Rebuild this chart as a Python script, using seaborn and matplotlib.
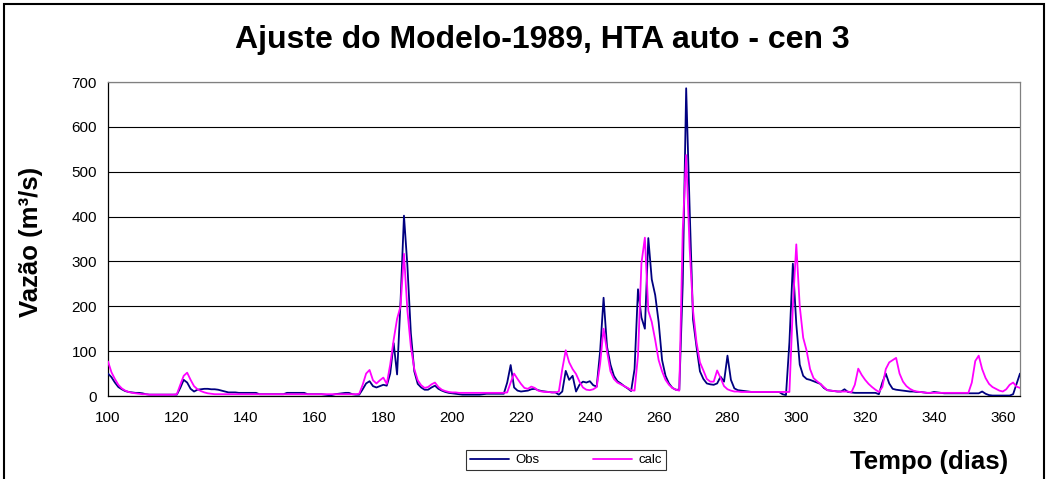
import numpy as np
import pandas as pd
import matplotlib
matplotlib.use("Agg")
import matplotlib.pyplot as plt
from matplotlib.patches import Rectangle
import seaborn as sns

# Daily flows (m3/s), days 100..365
dias = list(range(100, 366))

obs = [
    50, 42, 30, 20, 15, 11, 9, 8, 7, 7,
    6, 4, 3, 3, 3, 3, 3, 3, 3, 3,
    3, 18, 36, 30, 16, 10, 14, 15, 16, 16,
    15, 15, 14, 12, 10, 8, 8, 8, 7, 7,
    7, 7, 7, 7, 4, 4, 4, 4, 4, 4,
    4, 4, 7, 7, 7, 7, 7, 7, 4, 4,
    4, 4, 4, 3, 2, 2, 4, 5, 6, 7,
    7, 4, 3, 3, 15, 28, 33, 22, 19, 22,
    25, 23, 50, 118, 48, 210, 402, 290, 140, 55,
    27, 19, 14, 14, 19, 23, 16, 12, 9, 7,
    6, 5, 4, 3, 3, 3, 3, 3, 3, 4,
    5, 5, 5, 5, 5, 5, 30, 69, 19, 12,
    10, 11, 12, 15, 16, 13, 11, 10, 9, 8,
    8, 3, 10, 56, 36, 45, 10, 25, 32, 30,
    33, 24, 21, 100, 219, 110, 70, 45, 33, 28,
    22, 17, 11, 60, 238, 175, 150, 352, 260, 225,
    165, 80, 45, 28, 18, 14, 14, 250, 686, 420,
    170, 110, 55, 38, 28, 26, 25, 28, 43, 32,
    90, 36, 17, 13, 12, 11, 10, 9, 9, 9,
    9, 9, 9, 9, 9, 9, 4, 2, 120, 295,
    160, 70, 45, 38, 36, 33, 30, 27, 18, 13,
    12, 11, 10, 10, 15, 9, 8, 7, 7, 7,
    7, 7, 7, 7, 4, 30, 50, 28, 16, 14,
    13, 12, 11, 10, 10, 9, 9, 8, 7, 7,
    9, 8, 7, 6, 6, 6, 6, 6, 6, 6,
    6, 6, 6, 6, 10, 5, 2, 1, 1, 1,
    1, 1, 1, 4, 27, 50,
]

calc = [
    77, 53, 38, 25, 17, 12, 9, 7, 6, 5,
    4, 4, 3, 3, 3, 3, 3, 3, 3, 3,
    4, 25, 45, 52, 36, 22, 15, 11, 8, 6,
    5, 4, 4, 4, 4, 4, 4, 4, 4, 4,
    4, 4, 4, 4, 4, 4, 4, 4, 4, 4,
    4, 4, 4, 4, 4, 4, 4, 4, 4, 4,
    4, 4, 4, 4, 4, 4, 4, 4, 4, 4,
    4, 4, 4, 5, 25, 50, 58, 35, 28, 35,
    41, 27, 70, 125, 172, 200, 317, 190, 110, 60,
    35, 24, 18, 20, 26, 30, 20, 14, 11, 9,
    8, 8, 7, 7, 7, 7, 7, 7, 7, 7,
    7, 7, 7, 7, 7, 7, 8, 30, 50, 38,
    27, 18, 16, 21, 18, 12, 10, 9, 9, 8,
    8, 10, 60, 102, 75, 60, 49, 32, 19, 14,
    13, 15, 20, 72, 150, 100, 55, 38, 30, 26,
    22, 18, 13, 12, 90, 296, 353, 190, 165, 125,
    80, 55, 36, 25, 18, 14, 12, 370, 537, 330,
    190, 120, 75, 57, 38, 32, 32, 57, 40, 22,
    15, 12, 10, 10, 9, 9, 9, 9, 9, 9,
    9, 9, 9, 9, 9, 9, 9, 9, 9, 200,
    338, 200, 130, 101, 60, 40, 33, 27, 20, 13,
    12, 11, 10, 10, 10, 10, 8, 25, 61, 47,
    36, 27, 20, 14, 9, 20, 60, 75, 80, 85,
    50, 32, 22, 16, 12, 10, 9, 8, 7, 7,
    7, 7, 7, 7, 7, 7, 7, 7, 7, 7,
    7, 30, 78, 90, 60, 40, 27, 20, 16, 12,
    10, 15, 25, 30, 21, 18,
]

series_names = ["Obs", "calc"]
x_ticks = list(range(100, 361, 20))
y_ticks = list(range(0, 701, 100))

df = pd.DataFrame({
    "dia": dias * 2,
    "vazao": obs + calc,
    "serie": [series_names[0]] * len(dias) + [series_names[1]] * len(dias),
})

sns.set_style("white")
plt.rcParams["font.family"] = ["Liberation Sans", "DejaVu Sans"]
plt.rcParams["text.color"] = "black"

W, H = 1048, 479
fig = plt.figure(figsize=(W / 100, H / 100), dpi=100)
fig.patch.set_facecolor("white")

# outer chart frame
fig.patches.append(Rectangle((4 / W, -0.05), (1044 - 4) / W, 1 - 4 / H + 0.05,
                             transform=fig.transFigure, fill=False,
                             ec="black", lw=1.5, zorder=0))

ax = fig.add_axes([108 / W, 1 - 396 / H, (1020 - 108) / W, (396 - 82) / H])

sns.lineplot(data=df, x="dia", y="vazao", hue="serie",
             palette={"Obs": "#000080", "calc": "#FF00FF"},
             linewidth=1.3, ax=ax, legend=False, zorder=3)

ax.set_xlim(100, 365)
ax.set_ylim(0, 700)
ax.set_xticks(x_ticks)
ax.set_yticks(y_ticks)
ax.set_xlabel("")
ax.set_ylabel("")
ax.tick_params(axis="both", labelsize=11, colors="black", direction="out",
               length=5, width=0.8, pad=3)
ax.tick_params(axis="x", pad=6)
ax.yaxis.grid(True, color="black", lw=0.8)
ax.xaxis.grid(False)
ax.set_axisbelow(True)
for side in ("left", "bottom"):
    ax.spines[side].set_color("black")
    ax.spines[side].set_linewidth(0.9)
for side in ("top", "right"):
    ax.spines[side].set_color("#808080")
    ax.spines[side].set_linewidth(0.9)

fig.text(542 / W, 1 - 40 / H, "Ajuste do Modelo-1989, HTA auto - cen 3",
         ha="center", va="center", fontsize=23, fontweight="bold",
         color="black")
fig.text(31 / W, 1 - 242 / H, "Vazão (m³/s)", rotation=90,
         ha="center", va="center", fontsize=18.5, fontweight="bold",
         color="black")
fig.text(929 / W, 1 - 462 / H, "Tempo (dias)",
         ha="center", va="center", fontsize=18.5, fontweight="bold",
         color="black")

handles = [plt.Line2D([], [], color="#000080", lw=1.3),
           plt.Line2D([], [], color="#FF00FF", lw=1.3)]
leg = fig.legend(handles, series_names, loc="center",
                 bbox_to_anchor=(566 / W, 1 - 460 / H), ncol=2, fontsize=9.5,
                 frameon=True, fancybox=False, edgecolor="black",
                 handlelength=3.0, columnspacing=4.0, borderpad=0.3,
                 handletextpad=0.5)
leg.get_frame().set_linewidth(0.8)

fig.savefig("out.png", dpi=100, facecolor="white")
